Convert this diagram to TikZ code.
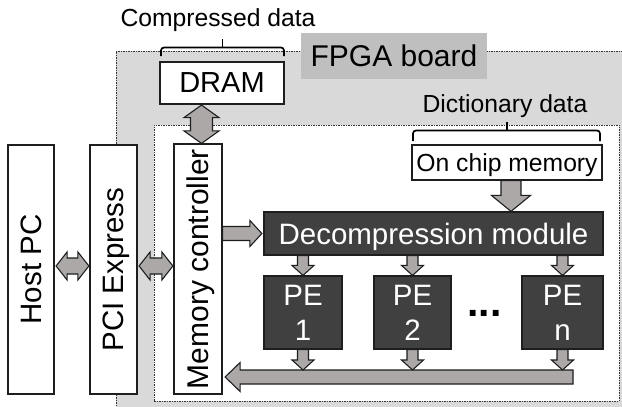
\documentclass[tikz,border=0pt]{standalone}
\usepackage{fontspec}
\setmainfont{Liberation Sans}
\usetikzlibrary{calc}
\definecolor{outergray}{RGB}{217,217,217}
\definecolor{labelgray}{RGB}{191,191,191}
\definecolor{boxdark}{RGB}{64,64,64}
\definecolor{arrowgray}{RGB}{172,168,168}
\definecolor{edgedark}{RGB}{30,30,30}
\newcommand\fbig{\fontsize{29.5}{35}\selectfont}
\newcommand\fsmall{\fontsize{24.7}{30}\selectfont}
\newcommand\nodepth[1]{\raisebox{0pt}[\height][0pt]{#1}}
\newcommand\singlearrow[5]{%
  \coordinate (#1hb) at ($(#2)!#5!(#1)$);
  \path[blockarrow] ($(#1)!#3!90:(#2)$) -- ($(#1hb)!#3!90:(#2)$) -- ($(#1hb)!#4!90:(#2)$) -- (#2)
    -- ($(#1hb)!#4!-90:(#2)$) -- ($(#1hb)!#3!-90:(#2)$) -- ($(#1)!#3!-90:(#2)$) -- cycle;}
\newcommand\doublearrow[5]{%
  \coordinate (#1ha) at ($(#1)!#5!(#2)$);
  \coordinate (#1hb) at ($(#2)!#5!(#1)$);
  \path[blockarrow] (#1) -- ($(#1ha)!#4!90:(#2)$) -- ($(#1ha)!#3!90:(#2)$) -- ($(#1hb)!#3!90:(#2)$)
    -- ($(#1hb)!#4!90:(#2)$) -- (#2) -- ($(#1hb)!#4!-90:(#2)$) -- ($(#1hb)!#3!-90:(#2)$)
    -- ($(#1ha)!#3!-90:(#2)$) -- ($(#1ha)!#4!-90:(#2)$) -- cycle;}
\begin{document}
\begin{tikzpicture}[x=1pt,y=-1pt,
  whitebox/.style={draw=edgedark,fill=white,line width=1.2pt,inner sep=0pt,text depth=0pt,font=\fbig},
  blackbox/.style={draw=edgedark,fill=boxdark,line width=1.2pt,inner sep=0pt,text=white,text depth=0pt,font=\fbig},
  dotline/.style={draw=black!80,line width=0.9pt,dash pattern=on 1.5pt off 1pt},
  blockarrow/.style={draw=edgedark,fill=arrowgray,line width=1.1pt,line join=miter},
  bracestyle/.style={draw=black,line width=1.7pt,rounded corners=3pt},
  caption/.style={anchor=base,inner sep=0pt,font=\fsmall},
  petext/.style={anchor=base,inner sep=0pt,text=white,font=\fbig}]
\useasboundingbox (0,0) rectangle (622,407);
\clip (0,0) rectangle (622,407);
% FPGA board
\fill[outergray] (116,51) rectangle (640,420);
\draw[dotline] (640,51) -- (116,51) -- (116,420);
\node[fill=labelgray,minimum width=186pt,minimum height=46pt,inner sep=0pt,text depth=0pt,font=\fontsize{30}{36}\selectfont] (fpga) at (394,56) {FPGA board};
% chip region
\node[dotline,fill=white,minimum width=465pt,minimum height=276pt,inner sep=0pt] (chip) at (386.5,263) {};
% boxes
\node[whitebox,minimum width=46pt,minimum height=249pt] (host) at (31,269.5) {\rotatebox{90}{Host PC}};
\node[whitebox,minimum width=47pt,minimum height=249pt] (pci) at (113.5,269.5) {\rotatebox{90}{\nodepth{PCI Express}}};
\node[whitebox,minimum width=48pt,minimum height=250pt,font=\fontsize{30}{36}\selectfont] (mem) at (198,269) {\rotatebox{90}{\nodepth{Memory controller}}};
\node[whitebox,minimum width=124pt,minimum height=42pt,font=\fontsize{29}{35}\selectfont] (dram) at (222,83) {DRAM};
\node[whitebox,minimum width=190pt,minimum height=35pt,font=\fsmall] (onchip) at (507,162.5) {On chip memory};
\node[blackbox,minimum width=339pt,minimum height=43pt] (decomp) at (433.5,233.5) {Decompression module};
\node[blackbox,minimum width=78pt,minimum height=73pt] (pe1) at (303,312.5) {};
\node[blackbox,minimum width=77pt,minimum height=73pt] (pe2) at (412.5,312.5) {};
\node[blackbox,minimum width=81pt,minimum height=73pt] (pen) at (562.5,312.5) {};
\node[petext] (pe1a) at ($(pe1.center)+(0,-7.5)$) {PE};
\node[petext] (pe1b) at ($(pe1.center)+(0,27.5)$) {1};
\node[petext] (pe2a) at ($(pe2.center)+(0,-7.5)$) {PE};
\node[petext] (pe2b) at ($(pe2.center)+(0,27.5)$) {2};
\node[petext] (pena) at ($(pen.center)+(0,-7.5)$) {PE};
\node[petext] (penb) at ($(pen.center)+(0,27.5)$) {n};
\node[anchor=base,inner sep=0pt,font=\fontsize{41}{41}\selectfont\bfseries] (dots) at (484.5,316) {...};
% captions and braces
\node[caption] (cdata) at (218,26) {Compressed data};
\node[caption] (ddata) at (505,112) {Dictionary data};
\draw[bracestyle] (161,56) -- (161,47.5) -- (284,47.5) -- (284,56);
\draw[bracestyle] (222.5,47.5) -- (222.5,38.5);
\draw[bracestyle] (413,141) -- (413,130.5) -- (600,130.5) -- (600,141);
\draw[bracestyle] (507,130.5) -- (507,121.5);
% arrows
\coordinate (a1s) at ($(host.east)+(1.5,-3.5)$);
\coordinate (a1e) at ($(pci.west)+(-0.5,-3.5)$);
\doublearrow{a1s}{a1e}{8pt}{14pt}{11pt}
\coordinate (a2s) at ($(pci.east)+(1.5,-3.5)$);
\coordinate (a2e) at ($(mem.west |- a2s)+(-0.5,0)$);
\doublearrow{a2s}{a2e}{8pt}{14pt}{11pt}
\coordinate (a3s) at ($(dram.south)+(-20.5,0.5)$);
\coordinate (a3e) at (a3s |- mem.north);
\doublearrow{a3s}{a3e}{11pt}{17.5pt}{12.5pt}
\coordinate (a4s) at (mem.east |- decomp.west);
\coordinate (a4e) at ($(decomp.west)+(-1.5,0)$);
\singlearrow{a4s}{a4e}{7pt}{13pt}{12pt}
\coordinate (a5s) at ($(onchip.south)+(4,0)$);
\coordinate (a5e) at (a5s |- decomp.north);
\singlearrow{a5s}{a5e}{10pt}{19.5pt}{16pt}
\coordinate (d1) at (pe1.north |- decomp.south);
\coordinate (d2) at (pe2.north |- decomp.south);
\coordinate (d3) at (pen.north |- decomp.south);
\singlearrow{d1}{pe1.north}{5.5pt}{11pt}{10pt}
\singlearrow{d2}{pe2.north}{5.5pt}{11pt}{10pt}
\singlearrow{d3}{pen.north}{5.5pt}{11pt}{10pt}
% bus
\coordinate (busR) at (573,377);
\coordinate (busL) at ($(mem.east |- busR)+(2.5,0)$);
\singlearrow{busR}{busL}{7pt}{14.5pt}{15pt}
\coordinate (u1) at (pe1.south);
\coordinate (u2) at (pe2.south);
\coordinate (u3) at (pen.south);
\coordinate (b1) at ($(u1 |- busR)+(0,-7)$);
\coordinate (b2) at ($(u2 |- busR)+(0,-7)$);
\coordinate (b3) at ($(u3 |- busR)+(0,-7)$);
\singlearrow{u1}{b1}{5.5pt}{11pt}{10pt}
\singlearrow{u2}{b2}{5.5pt}{11pt}{10pt}
\singlearrow{u3}{b3}{5.5pt}{11pt}{10pt}
\end{tikzpicture}
\end{document}
